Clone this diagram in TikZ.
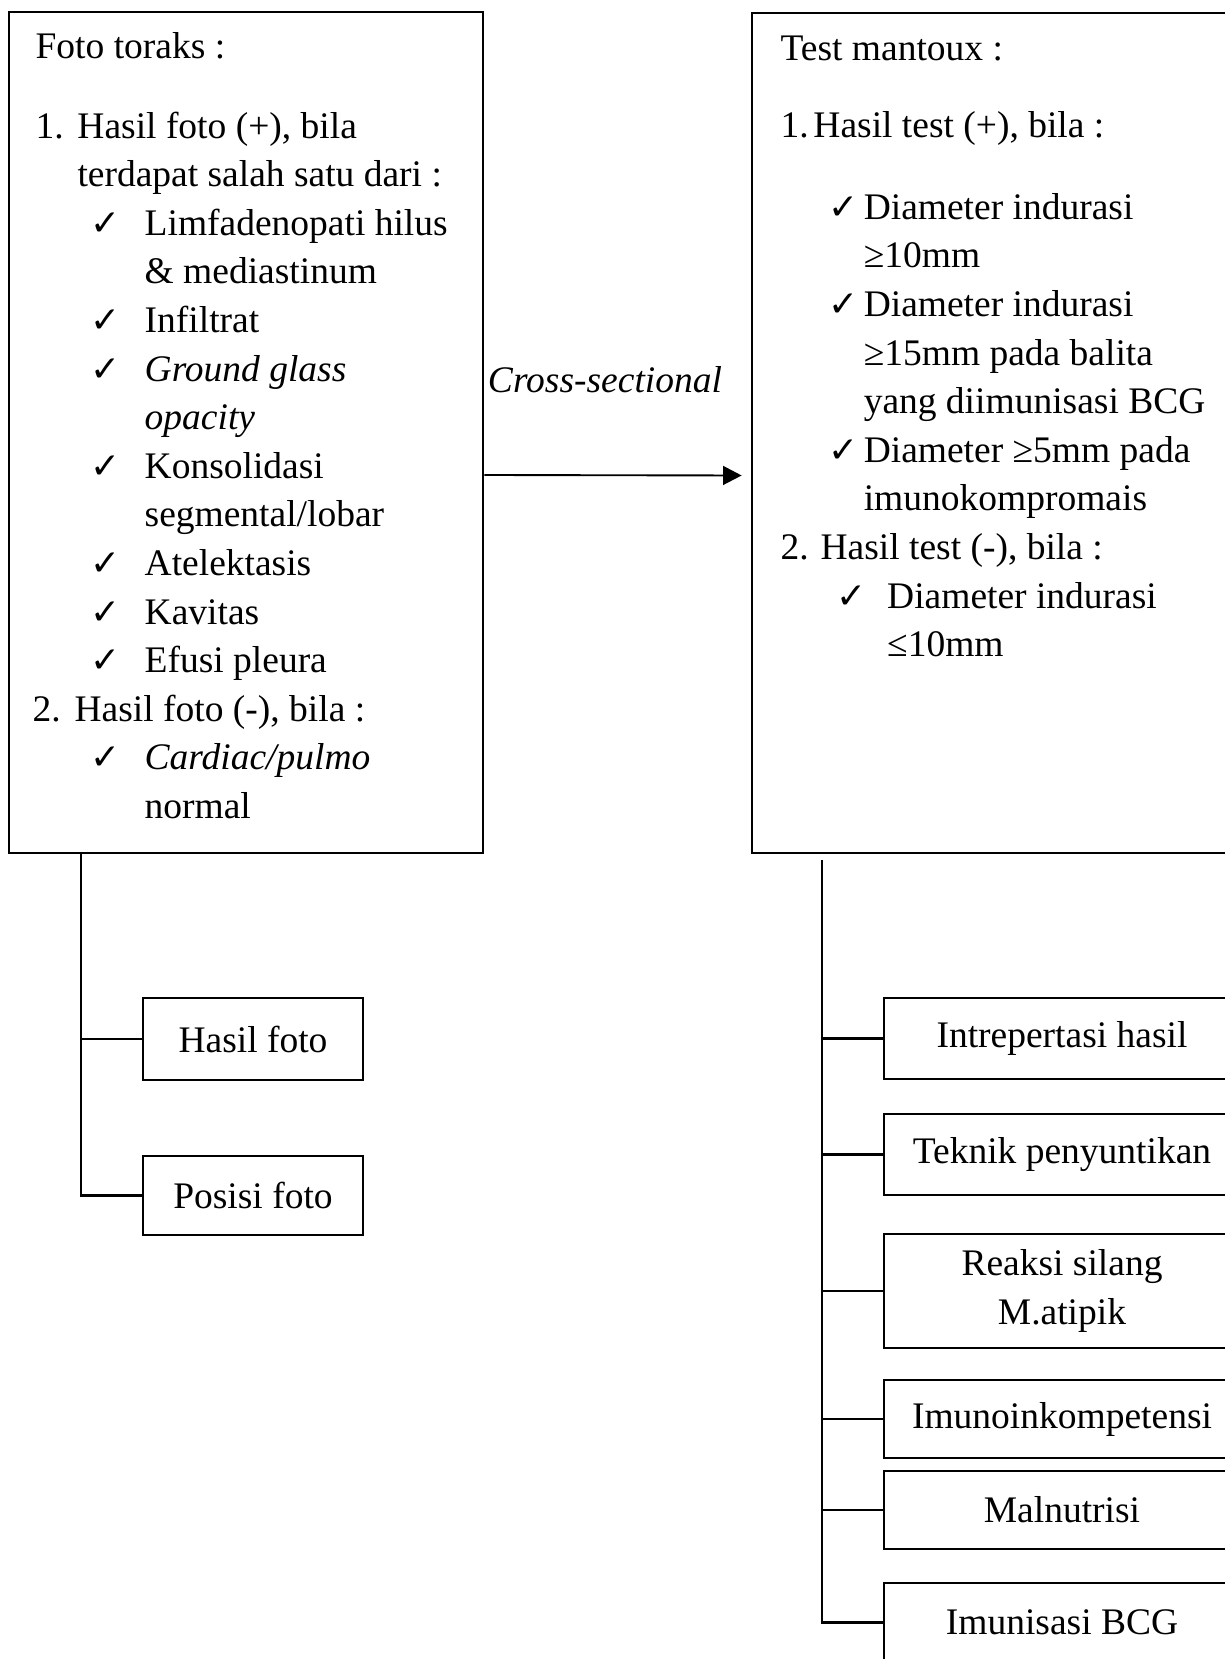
\documentclass[tikz,border=0pt]{standalone}
\usepackage{fontspec}
\setmainfont{Liberation Serif}
\newfontfamily\symfont{DejaVu Sans}
\usepackage{tikz}
\usetikzlibrary{arrows.meta,positioning}

\newcommand{\chk}{{\symfont\fontsize{11.5}{12}\selectfont ✓}}
% check mark line: #1 = text start, #2 = check start
\newcommand{\chkline}[2]{\makebox[#1][l]{\hspace*{#2}\chk}}

\tikzset{
    bigbox/.style={
        rectangle,
        draw=black,
        line width=0.8pt,
        inner sep=0pt
    },
    listtext/.style={
        anchor=north west,
        inner sep=0pt,
        align=left,
        font=\fontsize{12}{15.55}\selectfont
    },
    itembox/.style={
        rectangle,
        draw=black,
        line width=0.8pt,
        inner sep=0pt,
        align=center,
        font=\fontsize{12}{15.55}\selectfont
    },
    linkline/.style={
        line width=0.8pt
    },
    arrow/.style={
        -{Triangle[length=5.9pt,width=6pt]},
        line width=0.6pt
    }
}

\begin{document}
\begin{tikzpicture}[
        x=0.32pt, y=-0.32pt,
        leftitem/.style={itembox, minimum width=70.4pt},
        rightitem/.style={itembox, minimum width=113.9pt}
    ]
    \useasboundingbox (0,0) rectangle (1225,1659);
    \clip (0,0) rectangle (1225,1659);

    % Main boxes
    \node[bigbox, minimum width=151.7pt, minimum height=269.1pt] (foto) at (246,432.5) {};
    \node[bigbox, minimum width=156.2pt, minimum height=268.8pt] (mantoux) at (996,433) {};

    \node[listtext] (fototext) at (35,24) {
        \strut Foto toraks :\\[9.9pt]
        \makebox[13.4pt][l]{1.}Hasil foto (+), bila\\
        \hspace*{13.4pt}terdapat salah satu dari :\\
        \chkline{34.9pt}{17.6pt}Limfadenopati hilus\\
        \hspace*{34.9pt}\& mediastinum\\
        \chkline{34.9pt}{17.6pt}Infiltrat\\
        \chkline{34.9pt}{17.6pt}\textit{Ground glass}\\
        \hspace*{34.9pt}\textit{opacity}\\
        \chkline{34.9pt}{17.6pt}Konsolidasi\\
        \hspace*{34.9pt}segmental/lobar\\
        \chkline{34.9pt}{17.6pt}Atelektasis\\
        \chkline{34.9pt}{17.6pt}Kavitas\\
        \chkline{34.9pt}{17.6pt}Efusi pleura\\
        \hspace*{-1pt}\makebox[13.5pt][l]{2.}Hasil foto (-), bila :\\
        \chkline{34.9pt}{17.6pt}\textit{Cardiac/pulmo}\\
        \hspace*{34.9pt}normal
    };

    \node[listtext] (mantouxtext) at (780,26) {
        \strut Test mantoux :\\[9.2pt]
        \makebox[10.5pt][l]{1.}Hasil test (+), bila :\\[10.5pt]
        \chkline{26.6pt}{15.4pt}Diameter indurasi\\
        \hspace*{26.6pt}≥10mm\\
        \chkline{26.6pt}{15.4pt}Diameter indurasi\\
        \hspace*{26.6pt}≥15mm pada balita\\
        \hspace*{26.6pt}yang diimunisasi BCG\\
        \chkline{26.6pt}{15.4pt}Diameter ≥5mm pada\\
        \hspace*{26.6pt}imunokompromais\\
        \makebox[12.8pt][l]{2.}Hasil test (-), bila :\\
        \chkline{34.1pt}{17.9pt}Diameter indurasi\\
        \hspace*{34.1pt}≤10mm
    };

    \node[font=\fontsize{12}{15.55}\selectfont\itshape, anchor=base] (design) at (605,392) {Cross-sectional};

    % Left factors
    \node[leftitem, minimum height=26.2pt] (hasil) at (253,1039) {Hasil foto};
    \node[leftitem, minimum height=25.3pt] (posisi) at (253,1195.5) {Posisi foto};

    % Right factors
    \node[rightitem, minimum height=25.9pt] (interp) at (1062,1038.5) {Intrepertasi hasil};
    \node[rightitem, minimum height=25.9pt] (teknik) at (1062,1154.5) {Teknik penyuntikan};
    \node[rightitem, minimum height=36.5pt] (reaksi) at (1062,1291) {Reaksi silang\\M.atipik};
    \node[rightitem, minimum height=25pt] (imuno) at (1062,1419) {Imunoinkompetensi};
    \node[rightitem, minimum height=25pt] (malnut) at (1062,1510) {Malnutrisi};
    \node[rightitem, minimum height=25.3pt] (bcg) at (1062,1622.5) {Imunisasi BCG};

    \coordinate (ltop) at (81,853);
    \coordinate (rtop) at (822,860);

    % Arrows
    \draw[arrow, shorten >=2.9pt] ([yshift=-13.6pt]foto.east) -- ([yshift=-13.6pt]mantoux.west);

    \draw[linkline] (ltop) |- (posisi.west);
    \draw[linkline] (ltop |- hasil.west) -- (hasil.west);

    \draw[linkline] (rtop) |- (bcg.west);
    \foreach \b in {interp,teknik,reaksi,imuno,malnut}
        \draw[linkline] (rtop |- \b.west) -- (\b.west);
\end{tikzpicture}
\end{document}
